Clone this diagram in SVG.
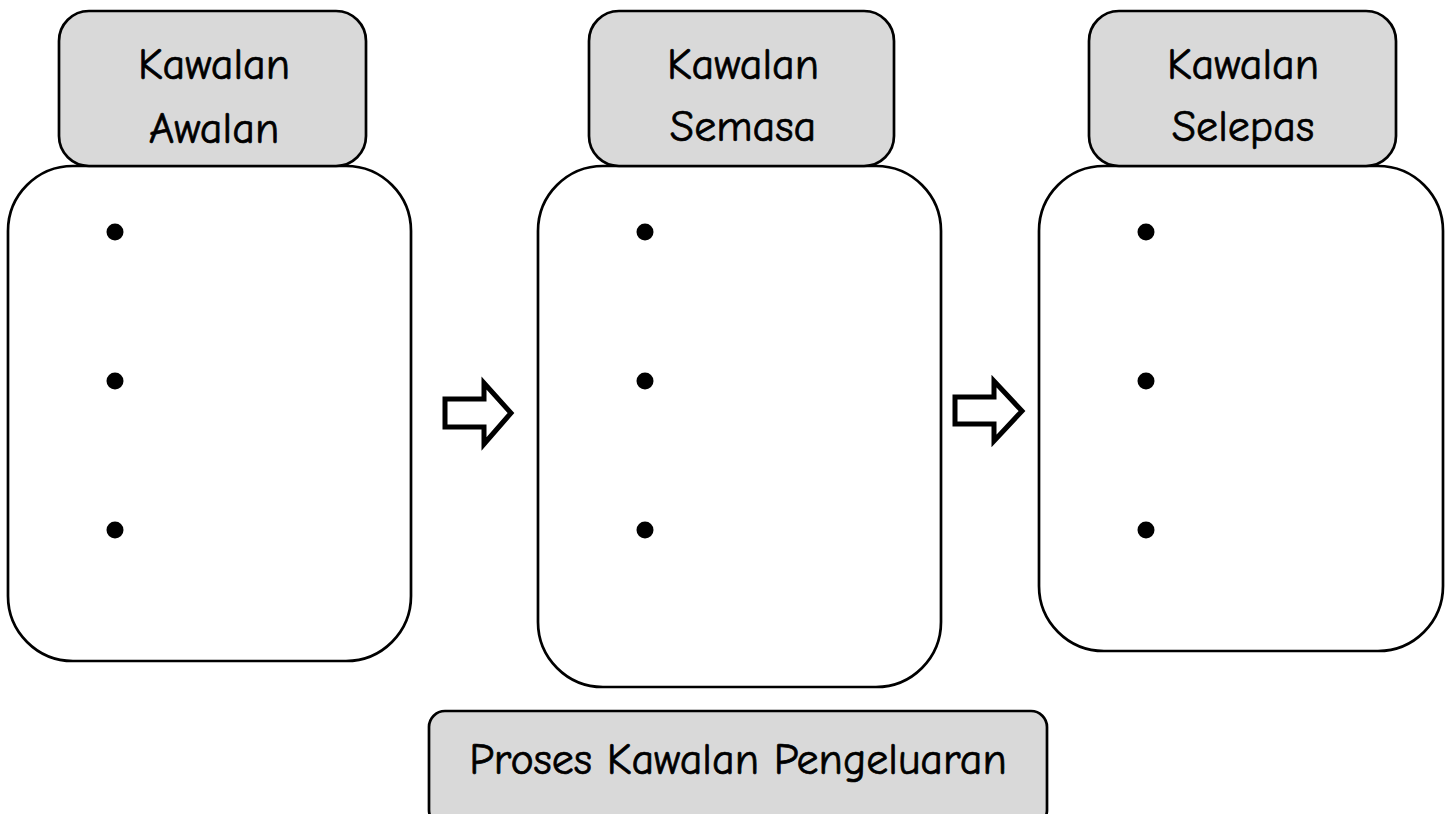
<svg xmlns="http://www.w3.org/2000/svg" width="1451" height="814" viewBox="0 0 1451 814">
<defs>
<style>
.outer{fill:#ffffff;stroke:#000000;stroke-width:2.7}
.head{fill:#d9d9d9;stroke:#000000;stroke-width:2.7}
.lbl{font-family:'Comic Sans MS','Comic Neue','Noto Sans',sans-serif;font-size:44px;fill:#000000;stroke:#000000;stroke-width:0.7;text-anchor:middle}
.dot{fill:#000000}
.arrow{fill:#ffffff;stroke:#000000;stroke-width:5;stroke-linejoin:miter}
</style>
</defs>
<rect width="1451" height="814" fill="#ffffff"/>
<g id="node-awalan">
<rect class="outer" x="8" y="166" width="403" height="495" rx="65" ry="65"/>
<rect class="head" x="59" y="11" width="307" height="155" rx="30" ry="30"/>
<text class="lbl" x="214" y="79">Kawalan</text>
<text class="lbl" x="214" y="143">Awalan</text>
<circle class="dot" cx="115" cy="232" r="8.5"/>
<circle class="dot" cx="115" cy="381" r="8.5"/>
<circle class="dot" cx="115" cy="530" r="8.5"/>
</g>
<g id="node-semasa">
<rect class="outer" x="538" y="166" width="403" height="521" rx="65" ry="65"/>
<rect class="head" x="589" y="11" width="305" height="155" rx="30" ry="30"/>
<text class="lbl" x="743" y="79">Kawalan</text>
<text class="lbl" x="743" y="141">Semasa</text>
<circle class="dot" cx="645" cy="232" r="8.5"/>
<circle class="dot" cx="645" cy="381" r="8.5"/>
<circle class="dot" cx="645" cy="530" r="8.5"/>
</g>
<g id="node-selepas">
<rect class="outer" x="1039" y="166" width="404" height="485" rx="65" ry="65"/>
<rect class="head" x="1089" y="11" width="307" height="155" rx="30" ry="30"/>
<text class="lbl" x="1243" y="79">Kawalan</text>
<text class="lbl" x="1243" y="141">Selepas</text>
<circle class="dot" cx="1146" cy="232" r="8.5"/>
<circle class="dot" cx="1146" cy="381" r="8.5"/>
<circle class="dot" cx="1146" cy="530" r="8.5"/>
</g>
<g id="node-proses">
<rect class="head" x="429" y="711" width="618" height="115" rx="16" ry="16"/>
<text class="lbl" x="738" y="774">Proses Kawalan Pengeluaran</text>
</g>
<g id="connectors">
<path class="arrow" d="M445,399 L484,399 L484,383 L511,413 L484,444 L484,427 L445,427 Z"/>
<path class="arrow" d="M955,397 L994,397 L994,381 L1022,411 L994,441 L994,424 L955,424 Z"/>
</g>
</svg>
